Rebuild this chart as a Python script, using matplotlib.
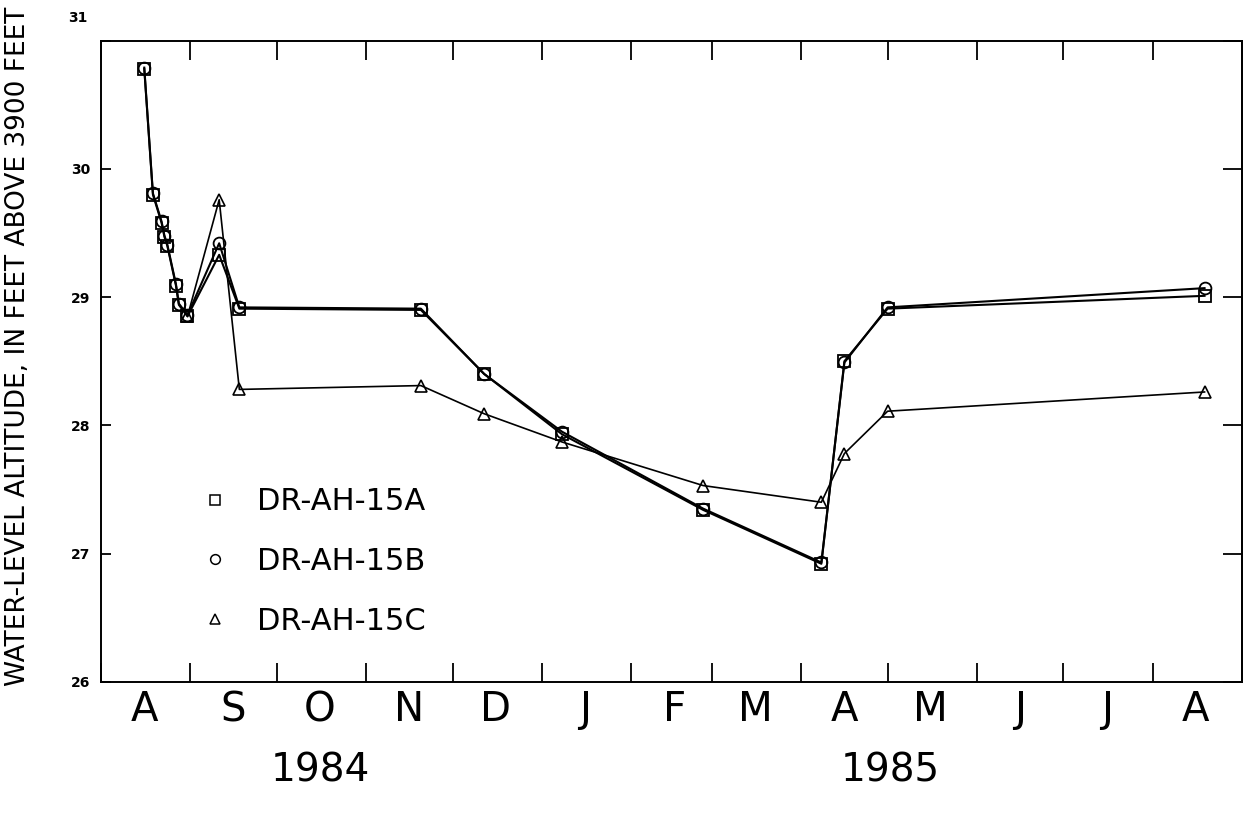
import datetime as dt
import matplotlib
matplotlib.use('Agg')
import matplotlib.pyplot as plt
import matplotlib.dates as mdates
import matplotlib.transforms as mtransforms
from matplotlib.lines import Line2D
from matplotlib.ticker import FuncFormatter

# sampling dates for wells 15A and 15B
dates_ab = ['1984-08-16', '1984-08-19', '1984-08-22', '1984-08-23', '1984-08-24',
            '1984-08-27', '1984-08-28', '1984-08-31', '1984-09-11', '1984-09-18',
            '1984-11-20', '1984-12-12', '1985-01-08', '1985-02-26', '1985-04-08',
            '1985-04-16', '1985-05-01', '1985-08-19']
level_15a = [30.78, 29.80, 29.58, 29.47, 29.40, 29.09, 28.94, 28.85, 29.33, 28.91,
             28.90, 28.40, 27.93, 27.34, 26.92, 28.50, 28.91, 29.01]
level_15b = [30.79, 29.81, 29.59, 29.48, 29.41, 29.10, 28.95, 28.86, 29.42, 28.92,
             28.91, 28.40, 27.95, 27.35, 26.93, 28.49, 28.92, 29.07]

# well 15C
dates_c = ['1984-08-31', '1984-09-11', '1984-09-18', '1984-11-20', '1984-12-12',
           '1985-01-08', '1985-02-26', '1985-04-08', '1985-04-16', '1985-05-01',
           '1985-08-19']
level_15c = [28.85, 29.76, 28.28, 28.31, 28.09, 27.87, 27.53, 27.40, 27.78, 28.11, 28.26]

labels = ['DR-AH-15A', 'DR-AH-15B', 'DR-AH-15C']
yticks = [26, 27, 28, 29, 30]
years = [('1984', '1984-10-16'), ('1985', '1985-05-02')]


def to_dt(lst):
    return [dt.datetime.strptime(d, '%Y-%m-%d') for d in lst]


x_ab = to_dt(dates_ab)
x_c = to_dt(dates_c)

fig = plt.figure(figsize=(12.46, 8.14), dpi=100)
ax = fig.add_axes([0.0811, 0.1625, 0.9157, 0.7875])

ax.plot(x_c, level_15c, color='k', lw=1.2, marker='^', ms=8, mfc='none', mec='k', mew=1.2)
ax.plot(x_ab, level_15b, color='k', lw=1.5, marker='o', ms=8.5, mfc='none', mec='k', mew=1.3)
ax.plot(x_ab, level_15a, color='k', lw=1.5, marker='s', ms=8.5, mfc='none', mec='k', mew=1.3)

ax.set_xlim(dt.datetime(1984, 8, 1), dt.datetime(1985, 9, 1))
ax.set_ylim(26, 31)

for s in ax.spines.values():
    s.set_linewidth(1.4)

# x: month ticks at month starts, letters at mid-month
ax.xaxis.set_major_locator(mdates.MonthLocator())
ax.xaxis.set_major_formatter(FuncFormatter(lambda v, p: ''))
ax.xaxis.set_minor_locator(mdates.MonthLocator(bymonthday=16))
ax.xaxis.set_minor_formatter(FuncFormatter(lambda v, p: mdates.num2date(v).strftime('%b')[0]))
ax.tick_params(axis='x', which='major', direction='in', length=13.5, width=1.3,
               top=True, bottom=True)
ax.tick_params(axis='x', which='minor', length=0, pad=6, labelsize=29)

ax.set_yticks(yticks + [31])
ax.set_yticklabels([str(v) for v in yticks] + [''])
ax.tick_params(axis='y', which='major', direction='in', length=7, width=1.3,
               left=True, right=False, pad=8, labelsize=10)
for t in ax.get_yticklabels():
    t.set_fontweight('bold')
# the top label sits above the frame in the original
ax.text(-0.012, 1.035, '31', transform=ax.transAxes, ha='right', va='center',
        fontsize=10, fontweight='bold')

sec = ax.secondary_yaxis('right')
sec.set_yticks(yticks + [31])
sec.tick_params(direction='in', length=14, width=1.3, labelright=False)
sec.spines['right'].set_linewidth(1.4)

trans = mtransforms.blended_transform_factory(ax.transData, ax.transAxes)
for txt, d in years:
    ax.text(dt.datetime.strptime(d, '%Y-%m-%d'), -0.138, txt, transform=trans,
            ha='center', va='center', fontsize=28)

fig.text(0.0145, 0.574, 'WATER-LEVEL ALTITUDE, IN FEET ABOVE 3900 FEET', rotation=90,
         ha='center', va='center', fontsize=19)

handles = [Line2D([], [], ls='none', marker=m, ms=7, mfc='none', mec='k', mew=1.1)
           for m in ['s', 'o', '^']]
leg = ax.legend(handles, labels, loc='upper left', bbox_to_anchor=(0.062, 0.346),
                frameon=False, handletextpad=0.9, labelspacing=1.0, handlelength=1.0,
                prop={'size': 22})

fig.savefig('out.png', dpi=100)
